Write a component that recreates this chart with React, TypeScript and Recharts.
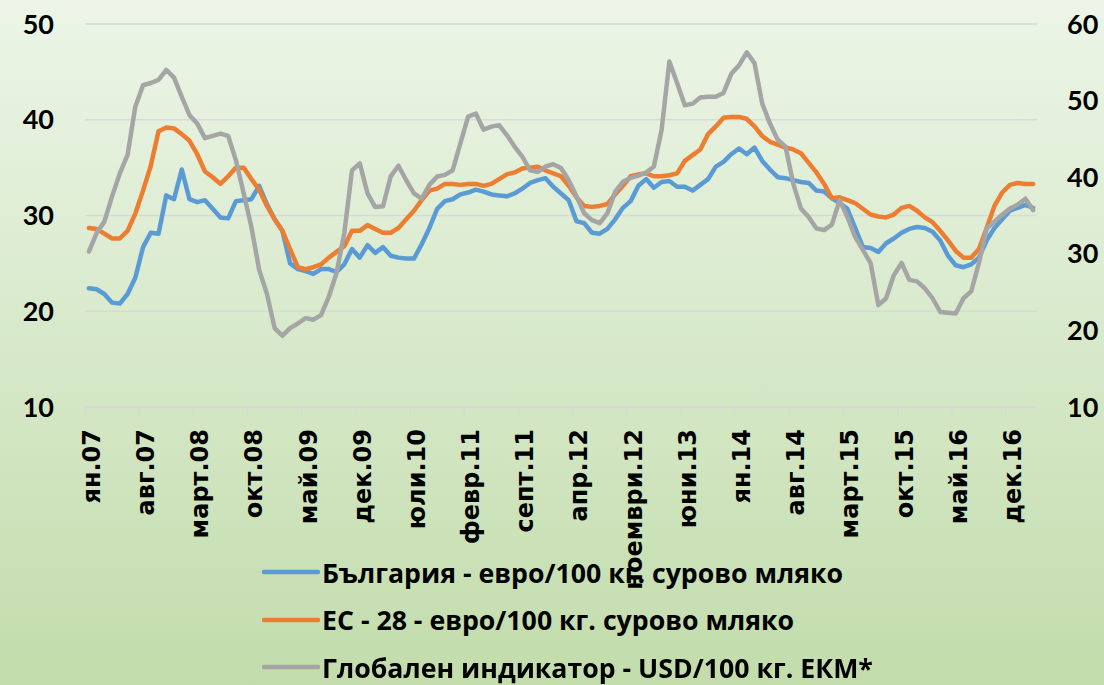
import React from 'react'
import { LineChart, Line, XAxis, YAxis, CartesianGrid, Legend } from 'recharts'

const MONTHS = ['ян.', 'февр.', 'март.', 'апр.', 'май.', 'юни.', 'юли.', 'авг.', 'септ.', 'окт.', 'ноември.', 'дек.']
const YEARS = ['07', '08', '09', '10', '11', '12', '13', '14', '15', '16', '17']
const N_MONTHS = 123 // ян.07 .. март.17

// България - евро/100 кг. сурово мляко (лява ос)
const BG = [
  22.4, 22.3, 21.8, 20.9, 20.8, 21.8, 23.5, 26.7, 28.2, 28.1, 32.1, 31.7,
  34.8, 31.7, 31.4, 31.6, 30.7, 29.8, 29.7, 31.5, 31.6, 31.7, 33.1, 31.2,
  29.6, 28.4, 25.0, 24.4, 24.2, 23.9, 24.4, 24.4, 24.1, 24.9, 26.5, 25.6,
  26.9, 26.1, 26.7, 25.8, 25.6, 25.5, 25.5, 27.0, 28.7, 30.7, 31.5, 31.7,
  32.2, 32.4, 32.7, 32.5, 32.2, 32.1, 32.0, 32.3, 32.8, 33.4, 33.7, 33.9,
  33.0, 32.3, 31.6, 29.4, 29.2, 28.2, 28.1, 28.6, 29.6, 30.8, 31.5, 33.1,
  33.8, 32.9, 33.5, 33.6, 33.0, 33.0, 32.6, 33.2, 33.8, 35.1, 35.6, 36.4,
  37.0, 36.4, 37.1, 35.7, 34.8, 34.0, 33.9, 33.7, 33.5, 33.4, 32.6, 32.5,
  31.8, 31.3, 30.7, 28.7, 26.7, 26.6, 26.2, 27.1, 27.6, 28.2, 28.6, 28.8,
  28.7, 28.3, 27.4, 25.8, 24.8, 24.6, 24.9, 25.6, 27.4, 28.7, 29.6, 30.5,
  30.8, 31.1, 30.8,
]

// ЕС - 28 - евро/100 кг. сурово мляко (лява ос)
const EU = [
  28.7, 28.6, 28.1, 27.6, 27.6, 28.4, 30.2, 32.6, 35.2, 38.8, 39.2, 39.1,
  38.5, 37.8, 36.4, 34.6, 34.0, 33.3, 34.1, 35.0, 35.0, 33.8, 32.7, 31.0,
  29.6, 28.4, 26.5, 24.6, 24.4, 24.6, 24.9, 25.6, 26.2, 26.8, 28.4, 28.4,
  29.0, 28.6, 28.2, 28.2, 28.7, 29.6, 30.5, 31.6, 32.6, 32.8, 33.3, 33.3,
  33.2, 33.3, 33.3, 33.1, 33.3, 33.8, 34.3, 34.5, 34.9, 35.0, 35.1, 34.7,
  34.4, 34.1, 33.1, 31.9, 31.0, 30.9, 31.0, 31.2, 32.2, 33.1, 34.1, 34.3,
  34.4, 34.1, 34.1, 34.2, 34.4, 35.7, 36.3, 36.9, 38.5, 39.3, 40.2, 40.3,
  40.3, 40.1, 39.3, 38.3, 37.7, 37.4, 37.1, 36.9, 36.5, 35.5, 34.5, 33.3,
  31.8, 31.9, 31.6, 31.3, 30.7, 30.1, 29.9, 29.8, 30.1, 30.8, 31.0, 30.5,
  29.8, 29.3, 28.4, 27.4, 26.3, 25.6, 25.6, 26.5, 28.7, 31.0, 32.4, 33.2,
  33.4, 33.3, 33.3,
]

// Глобален индикатор - USD/100 кг. ЕКМ* (дясна ос)
const GDT = [
  30.3, 32.7, 34.2, 37.5, 40.5, 42.9, 49.2, 52.0, 52.3, 52.7, 54.0, 53.0,
  50.5, 48.1, 47.0, 45.1, 45.4, 45.7, 45.4, 42.2, 37.9, 33.5, 27.9, 24.8,
  20.3, 19.3, 20.3, 20.9, 21.6, 21.4, 22.0, 24.4, 27.5, 32.7, 40.9, 41.8,
  37.9, 36.1, 36.2, 40.1, 41.5, 39.6, 37.9, 37.2, 39.0, 40.1, 40.3, 40.9,
  44.4, 47.9, 48.3, 46.2, 46.6, 46.8, 45.5, 44.0, 42.7, 40.9, 40.7, 41.4,
  41.7, 41.2, 39.6, 37.5, 35.3, 34.4, 34.0, 35.3, 38.1, 39.4, 39.9, 40.2,
  40.6, 41.4, 46.2, 55.1, 52.3, 49.4, 49.6, 50.4, 50.5, 50.5, 51.0, 53.5,
  54.6, 56.3, 54.9, 49.6, 47.0, 44.9, 44.0, 39.2, 35.9, 34.8, 33.3, 33.1,
  33.8, 37.0, 34.8, 32.2, 30.5, 28.8, 23.3, 24.2, 27.2, 28.8, 26.6, 26.4,
  25.5, 24.2, 22.4, 22.3, 22.2, 24.2, 25.1, 28.8, 33.3, 34.2, 35.1, 35.9,
  36.4, 37.2, 35.7,
]

const LEFT_TICKS = [10, 20, 30, 40, 50]
const RIGHT_TICKS = [10, 20, 30, 40, 50, 60]

const SERIES = [
  { key: 'bg', name: 'България - евро/100 кг. сурово мляко', color: '#5B9BD5', axis: 'left' },
  { key: 'eu', name: 'ЕС - 28 - евро/100 кг. сурово мляко', color: '#ED7D31', axis: 'left' },
  { key: 'gdt', name: 'Глобален индикатор - USD/100 кг. ЕКМ*', color: '#A5A5A5', axis: 'right' },
]

const categories: string[] = []
YEARS.forEach((y) => MONTHS.forEach((m) => categories.push(m + y)))

const data = categories.slice(0, N_MONTHS).map((month, i) => ({
  month,
  bg: BG[i],
  eu: EU[i],
  gdt: GDT[i],
}))

const W = 1104
const H = 685
const PLOT_LEFT = 85
const PLOT_RIGHT = 1037
const PLOT_TOP = 24
const PLOT_BOTTOM = 407
const STEP = (PLOT_RIGHT - PLOT_LEFT) / N_MONTHS
const GRID = '#d9d9d9'
const LATO = 'Lato, "Noto Sans", sans-serif'

function XTick(props: any) {
  const { x, payload } = props
  const bx = x - STEP / 2
  return (
    <g>
      <line x1={bx} x2={bx} y1={PLOT_BOTTOM} y2={PLOT_BOTTOM + 9} stroke={GRID} strokeWidth={1.5} />
      <text
        x={x}
        y={429}
        dy={11}
        textAnchor="end"
        transform={`rotate(-90, ${x}, 429)`}
        fontFamily='"DejaVu Sans", sans-serif'
        fontWeight="bold"
        fontSize={24}
        fill="#000"
      >
        {payload.value}
      </text>
    </g>
  )
}

function LegendBox() {
  return (
    <div style={{ position: 'relative', width: W, height: 140 }}>
      {SERIES.map((s, i) => (
        <div
          key={s.key}
          style={{
            position: 'absolute',
            left: 262,
            top: 4 + i * 47.5,
            height: 40,
            display: 'flex',
            alignItems: 'center',
            whiteSpace: 'nowrap',
          }}
        >
          <svg width={58} height={10} style={{ marginRight: 2 }}>
            <line x1={2} x2={56} y1={5} y2={5} stroke={s.color} strokeWidth={4.5} strokeLinecap="round" />
          </svg>
          <span style={{ fontFamily: '"Open Sans", sans-serif', fontWeight: 700, fontSize: 26.7, color: '#000' }}>
            {s.name}
          </span>
        </div>
      ))}
    </div>
  )
}

export default function App() {
  return (
    <div
      style={{
        position: 'fixed',
        left: 0,
        top: 0,
        width: W,
        height: H,
        background: 'linear-gradient(to bottom, #ecf5e7 0%, #d7e9ca 50%, #c2dcab 100%)',
      }}
    >
      <LineChart width={W} height={H} data={data} margin={{ top: PLOT_TOP, right: 0, left: 0, bottom: 0 }}>
        <CartesianGrid yAxisId="left" vertical={false} stroke={GRID} strokeWidth={1.5} />
        <XAxis
          dataKey="month"
          interval={6}
          height={H - PLOT_BOTTOM}
          padding={{ left: STEP / 2, right: STEP / 2 }}
          axisLine={{ stroke: GRID, strokeWidth: 1.5 }}
          tickLine={false}
          tickSize={0}
          tick={<XTick />}
        />
        <YAxis
          yAxisId="left"
          domain={[10, 50]}
          ticks={LEFT_TICKS}
          width={PLOT_LEFT}
          axisLine={false}
          tickLine={false}
          tickSize={0}
          tickMargin={31}
          tick={{ fontFamily: LATO, fontWeight: 700, fontSize: 27, fill: '#000' }}
        />
        <YAxis
          yAxisId="right"
          orientation="right"
          domain={[10, 60]}
          ticks={RIGHT_TICKS}
          width={W - PLOT_RIGHT}
          axisLine={false}
          tickLine={false}
          tickSize={0}
          tickMargin={30}
          tick={{ fontFamily: LATO, fontWeight: 700, fontSize: 27, fill: '#000' }}
        />
        {SERIES.map((s) => (
          <Line
            key={s.key}
            yAxisId={s.axis}
            dataKey={s.key}
            name={s.name}
            type="linear"
            stroke={s.color}
            strokeWidth={4.5}
            strokeLinejoin="round"
            strokeLinecap="round"
            dot={false}
            activeDot={false}
            isAnimationActive={false}
          />
        ))}
        <Legend
          layout="vertical"
          align="center"
          verticalAlign="middle"
          wrapperStyle={{ top: 548, left: 0, width: W }}
          content={() => <LegendBox />}
        />
      </LineChart>
    </div>
  )
}
